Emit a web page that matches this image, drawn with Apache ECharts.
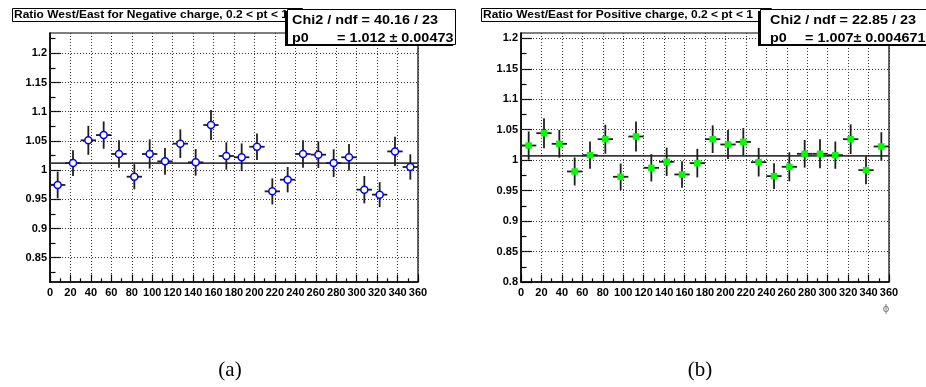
<!DOCTYPE html>
<html><head><meta charset="utf-8">
<script src="https://cdn.jsdelivr.net/npm/echarts@6/dist/echarts.min.js"></script>
<style>html,body{margin:0;padding:0;background:#fff}#c{width:926px;height:387px}</style>
</head><body><div id="c"></div>
<script>
// ---- data ----
const phiBins = [7.5, 22.5, 37.5, 52.5, 67.5, 82.5, 97.5, 112.5, 127.5, 142.5, 157.5, 172.5,
                 187.5, 202.5, 217.5, 232.5, 247.5, 262.5, 277.5, 292.5, 307.5, 322.5, 337.5, 352.5];
const binHalfWidth = 7.5;
const negRatio = [0.9745, 1.012, 1.051, 1.060, 1.0276, 0.9887, 1.0276, 1.015, 1.0453, 1.0133, 1.0772, 1.0242,
                  1.022, 1.040, 0.9636, 0.9836, 1.0276, 1.0264, 1.012, 1.022, 0.9665, 0.958, 1.032, 1.0053];
const negError = [0.0228, 0.022, 0.0248, 0.0234, 0.0237, 0.0214, 0.025, 0.023, 0.0245, 0.0228, 0.0257, 0.0234,
                  0.0237, 0.0228, 0.0223, 0.0217, 0.0237, 0.0228, 0.0237, 0.0228, 0.0234, 0.0214, 0.025, 0.0217];
const posRatio = [1.024, 1.0443, 1.0268, 0.9814, 1.0082, 1.0344, 0.9727, 1.0388, 0.9874, 0.9973, 0.9765, 0.9951,
                  1.0344, 1.0257, 1.030, 0.9967, 0.9738, 0.9891, 1.0104, 1.0104, 1.0082, 1.0344, 0.9836, 1.0224];
const posError = [0.0232, 0.0246, 0.0227, 0.023, 0.0224, 0.0238, 0.0219, 0.0246, 0.0224, 0.0232, 0.0216, 0.0235,
                  0.0227, 0.0238, 0.0227, 0.0235, 0.0213, 0.0238, 0.0227, 0.0238, 0.0224, 0.0243, 0.023, 0.0235];
const negFit = 1.012;
const posFit = 1.007;
const xRange = [0, 360];
const negYRange = [0.8084, 1.2348];
const posYRange = [0.8, 1.2087];
const negYTicks = [0.85, 0.9, 0.95, 1, 1.05, 1.1, 1.15, 1.2];
const posYTicks = [0.8, 0.85, 0.9, 0.95, 1, 1.05, 1.1, 1.15, 1.2];
const negYMinor = [0.825, 0.875, 0.925, 0.975, 1.025, 1.075, 1.125, 1.175, 1.225];
const posYMinor = [0.825, 0.875, 0.925, 0.975, 1.025, 1.075, 1.125, 1.175];
const titles = ['Ratio West/East for Negative charge, 0.2 < pt < 1', 'Ratio West/East for Positive charge, 0.2 < pt < 1'];
const statLine1 = ['Chi2 / ndf = 40.16 / 23', 'Chi2 / ndf = 22.85 / 23'];
const statName = ['p0', 'p0'];
const statValue = ['= 1.012 \u00b1 0.00473', '= 1.007\u00b1 0.004671'];
const captions = ['(a)', '(b)'];
const xAxisName = '\u03d5';

// ---- chart ----
const FONT = '"Liberation Sans", Arial, Helvetica, sans-serif';
const barColor = '#1e1e1e';

function errRender(params, api) {
  const x = api.value(0), y = api.value(1), e = api.value(2);
  const lo = api.coord([x, y - e]), hi = api.coord([x, y + e]);
  const l = api.coord([x - binHalfWidth, y]), r = api.coord([x + binHalfWidth, y]);
  return { type: 'group', children: [
    { type: 'line', shape: { x1: lo[0], y1: lo[1], x2: hi[0], y2: hi[1] }, style: { stroke: barColor, lineWidth: 1.8 } },
    { type: 'line', shape: { x1: l[0], y1: l[1], x2: r[0], y2: r[1] }, style: { stroke: barColor, lineWidth: 1.8 } }
  ]};
}

const grids = [
  { left: 50, top: 33, width: 368, height: 249 },
  { left: 521, top: 33, width: 368, height: 249 }
];

function makeX(i) {
  return {
    type: 'value', gridIndex: i, min: xRange[0], max: xRange[1], interval: 20,
    axisLine: { show: true, onZero: false, lineStyle: { color: '#000', width: 1.5 } },
    axisTick: { show: true, inside: true, length: 7.5, lineStyle: { color: '#000', width: 1.2 } },
    minorTick: { show: true, splitNumber: 2, length: 3.7, lineStyle: { color: '#000', width: 1.2 } },
    axisLabel: { show: true, margin: 5, interval: 0, hideOverlap: false, color: '#000', fontFamily: FONT, fontWeight: 'bold', fontSize: 11 },
    splitLine: { show: true, lineStyle: { color: '#333', width: 1, type: [1, 2] } }
  };
}
function makeYMajor(i, range, ticks) {
  return {
    type: 'value', gridIndex: i, min: range[0], max: range[1],
    axisLine: { show: true, onZero: false, lineStyle: { color: '#000', width: 1.5 } },
    axisTick: { show: true, inside: true, length: 11, customValues: ticks, lineStyle: { color: '#000', width: 1.2 } },
    axisLabel: { show: true, margin: 3, customValues: ticks, color: '#000', fontFamily: FONT, fontWeight: 'bold', fontSize: 11 },
    splitLine: { show: false }
  };
}
function makeYMinor(i, range, ticks) {
  return {
    type: 'value', gridIndex: i, min: range[0], max: range[1], position: 'left',
    axisLine: { show: false },
    axisTick: { show: true, inside: true, length: 5.5, customValues: ticks, lineStyle: { color: '#000', width: 1.2 } },
    axisLabel: { show: false },
    splitLine: { show: false }
  };
}

function plotSeries(idx, ratio, err, fit, yTicks, marker) {
  const pts = phiBins.map((x, k) => [x, ratio[k], err[k]]);
  const yIdx = idx * 2;
  const gridLines = yTicks.filter(v => v > (idx === 0 ? negYRange[0] : posYRange[0]) + 1e-6).map(v => ({ yAxis: v }));
  return [
    { type: 'line', xAxisIndex: idx, yAxisIndex: yIdx, data: [[xRange[0], fit], [xRange[1], fit]], showSymbol: false, silent: true,
      lineStyle: { color: '#3a3a3a', width: 1.8 }, z: 3,
      markLine: { silent: true, symbol: 'none', label: { show: false }, animation: false,
        lineStyle: { color: '#333', width: 1, type: [1, 2] }, emphasis: { disabled: true }, data: gridLines }
    },
    { type: 'custom', xAxisIndex: idx, yAxisIndex: yIdx, renderItem: errRender, data: pts, encode: { x: 0, y: 1 }, z: 4, silent: true },
    Object.assign({ type: 'scatter', xAxisIndex: idx, yAxisIndex: yIdx, data: pts.map(p => [p[0], p[1]]), z: 5, silent: true }, marker)
  ];
}

function statBox(x, y, w, h, t1, name, val, nameX, valX) {
  return [
    { type: 'rect', left: x - 2, top: y + 2, shape: { width: w, height: h }, style: { fill: '#000' }, z: 100 },
    { type: 'rect', left: x, top: y, shape: { width: w, height: h }, style: { fill: '#fff', stroke: '#000', lineWidth: 1 }, z: 101 },
    { type: 'text', x: nameX, y: y + 11.5, scaleX: 1.2, z: 102,
      style: { text: t1, font: 'bold 12px ' + FONT, fill: '#000', textVerticalAlign: 'middle' } },
    { type: 'text', x: nameX, y: y + 30, scaleX: 1.2, z: 102,
      style: { text: name, font: 'bold 12px ' + FONT, fill: '#000', textVerticalAlign: 'middle' } },
    { type: 'text', x: valX, y: y + 30, scaleX: 1.2, z: 102,
      style: { text: val, font: 'bold 12px ' + FONT, fill: '#000', textVerticalAlign: 'middle' } }
  ];
}
function titleBox(x, y, w, h, t) {
  return [
    { type: 'rect', left: x, top: y, shape: { width: w, height: h }, style: { fill: '#fff', stroke: '#000', lineWidth: 1 }, z: 90 },
    { type: 'text', x: x + 2, y: y + h / 2 + 0.5, scaleX: 1.14, z: 91,
      style: { text: t, font: 'bold 10.5px ' + FONT, fill: '#000', textVerticalAlign: 'middle' } }
  ];
}

const chart = echarts.init(document.getElementById('c'), null, { renderer: 'canvas' });
chart.setOption({
  animation: false,
  backgroundColor: '#fff',
  grid: grids.map(g => Object.assign({ show: true, borderColor: '#000', borderWidth: 1.2, backgroundColor: 'transparent' }, g)),
  xAxis: [makeX(0), makeX(1)],
  yAxis: [makeYMajor(0, negYRange, negYTicks), makeYMinor(0, negYRange, negYMinor),
          makeYMajor(1, posYRange, posYTicks), makeYMinor(1, posYRange, posYMinor)],
  series: [].concat(
    plotSeries(0, negRatio, negError, negFit, negYTicks,
      { symbol: 'circle', symbolSize: 7, itemStyle: { color: '#fff', borderColor: '#0000ff', borderWidth: 1.5, opacity: 1 } }),
    plotSeries(1, posRatio, posError, posFit, posYTicks,
      { symbol: 'rect', symbolSize: 6.5, itemStyle: { color: '#00ff00', opacity: 1 } })
  ),
  graphic: [].concat(
    titleBox(12, 8, 290, 13, titles[0]),
    titleBox(481, 8, 290, 13, titles[1]),
    statBox(287, 9, 168, 35, statLine1[0], statName[0], statValue[0], 292, 337),
    statBox(760, 9, 180, 35, statLine1[1], statName[1], statValue[1], 770, 805),
    [
      { type: 'text', x: 886, y: 309, z: 50, style: { text: xAxisName, font: '10px "DejaVu Sans", sans-serif', fill: '#777', textAlign: 'center', textVerticalAlign: 'middle' } },
      { type: 'text', x: 230, y: 370, z: 50, style: { text: captions[0], font: '21px "Liberation Serif", "DejaVu Serif", serif', fill: '#000', textAlign: 'center', textVerticalAlign: 'middle' } },
      { type: 'text', x: 700, y: 370, z: 50, style: { text: captions[1], font: '21px "Liberation Serif", "DejaVu Serif", serif', fill: '#000', textAlign: 'center', textVerticalAlign: 'middle' } }
    ]
  )
});
</script>
</body></html>
